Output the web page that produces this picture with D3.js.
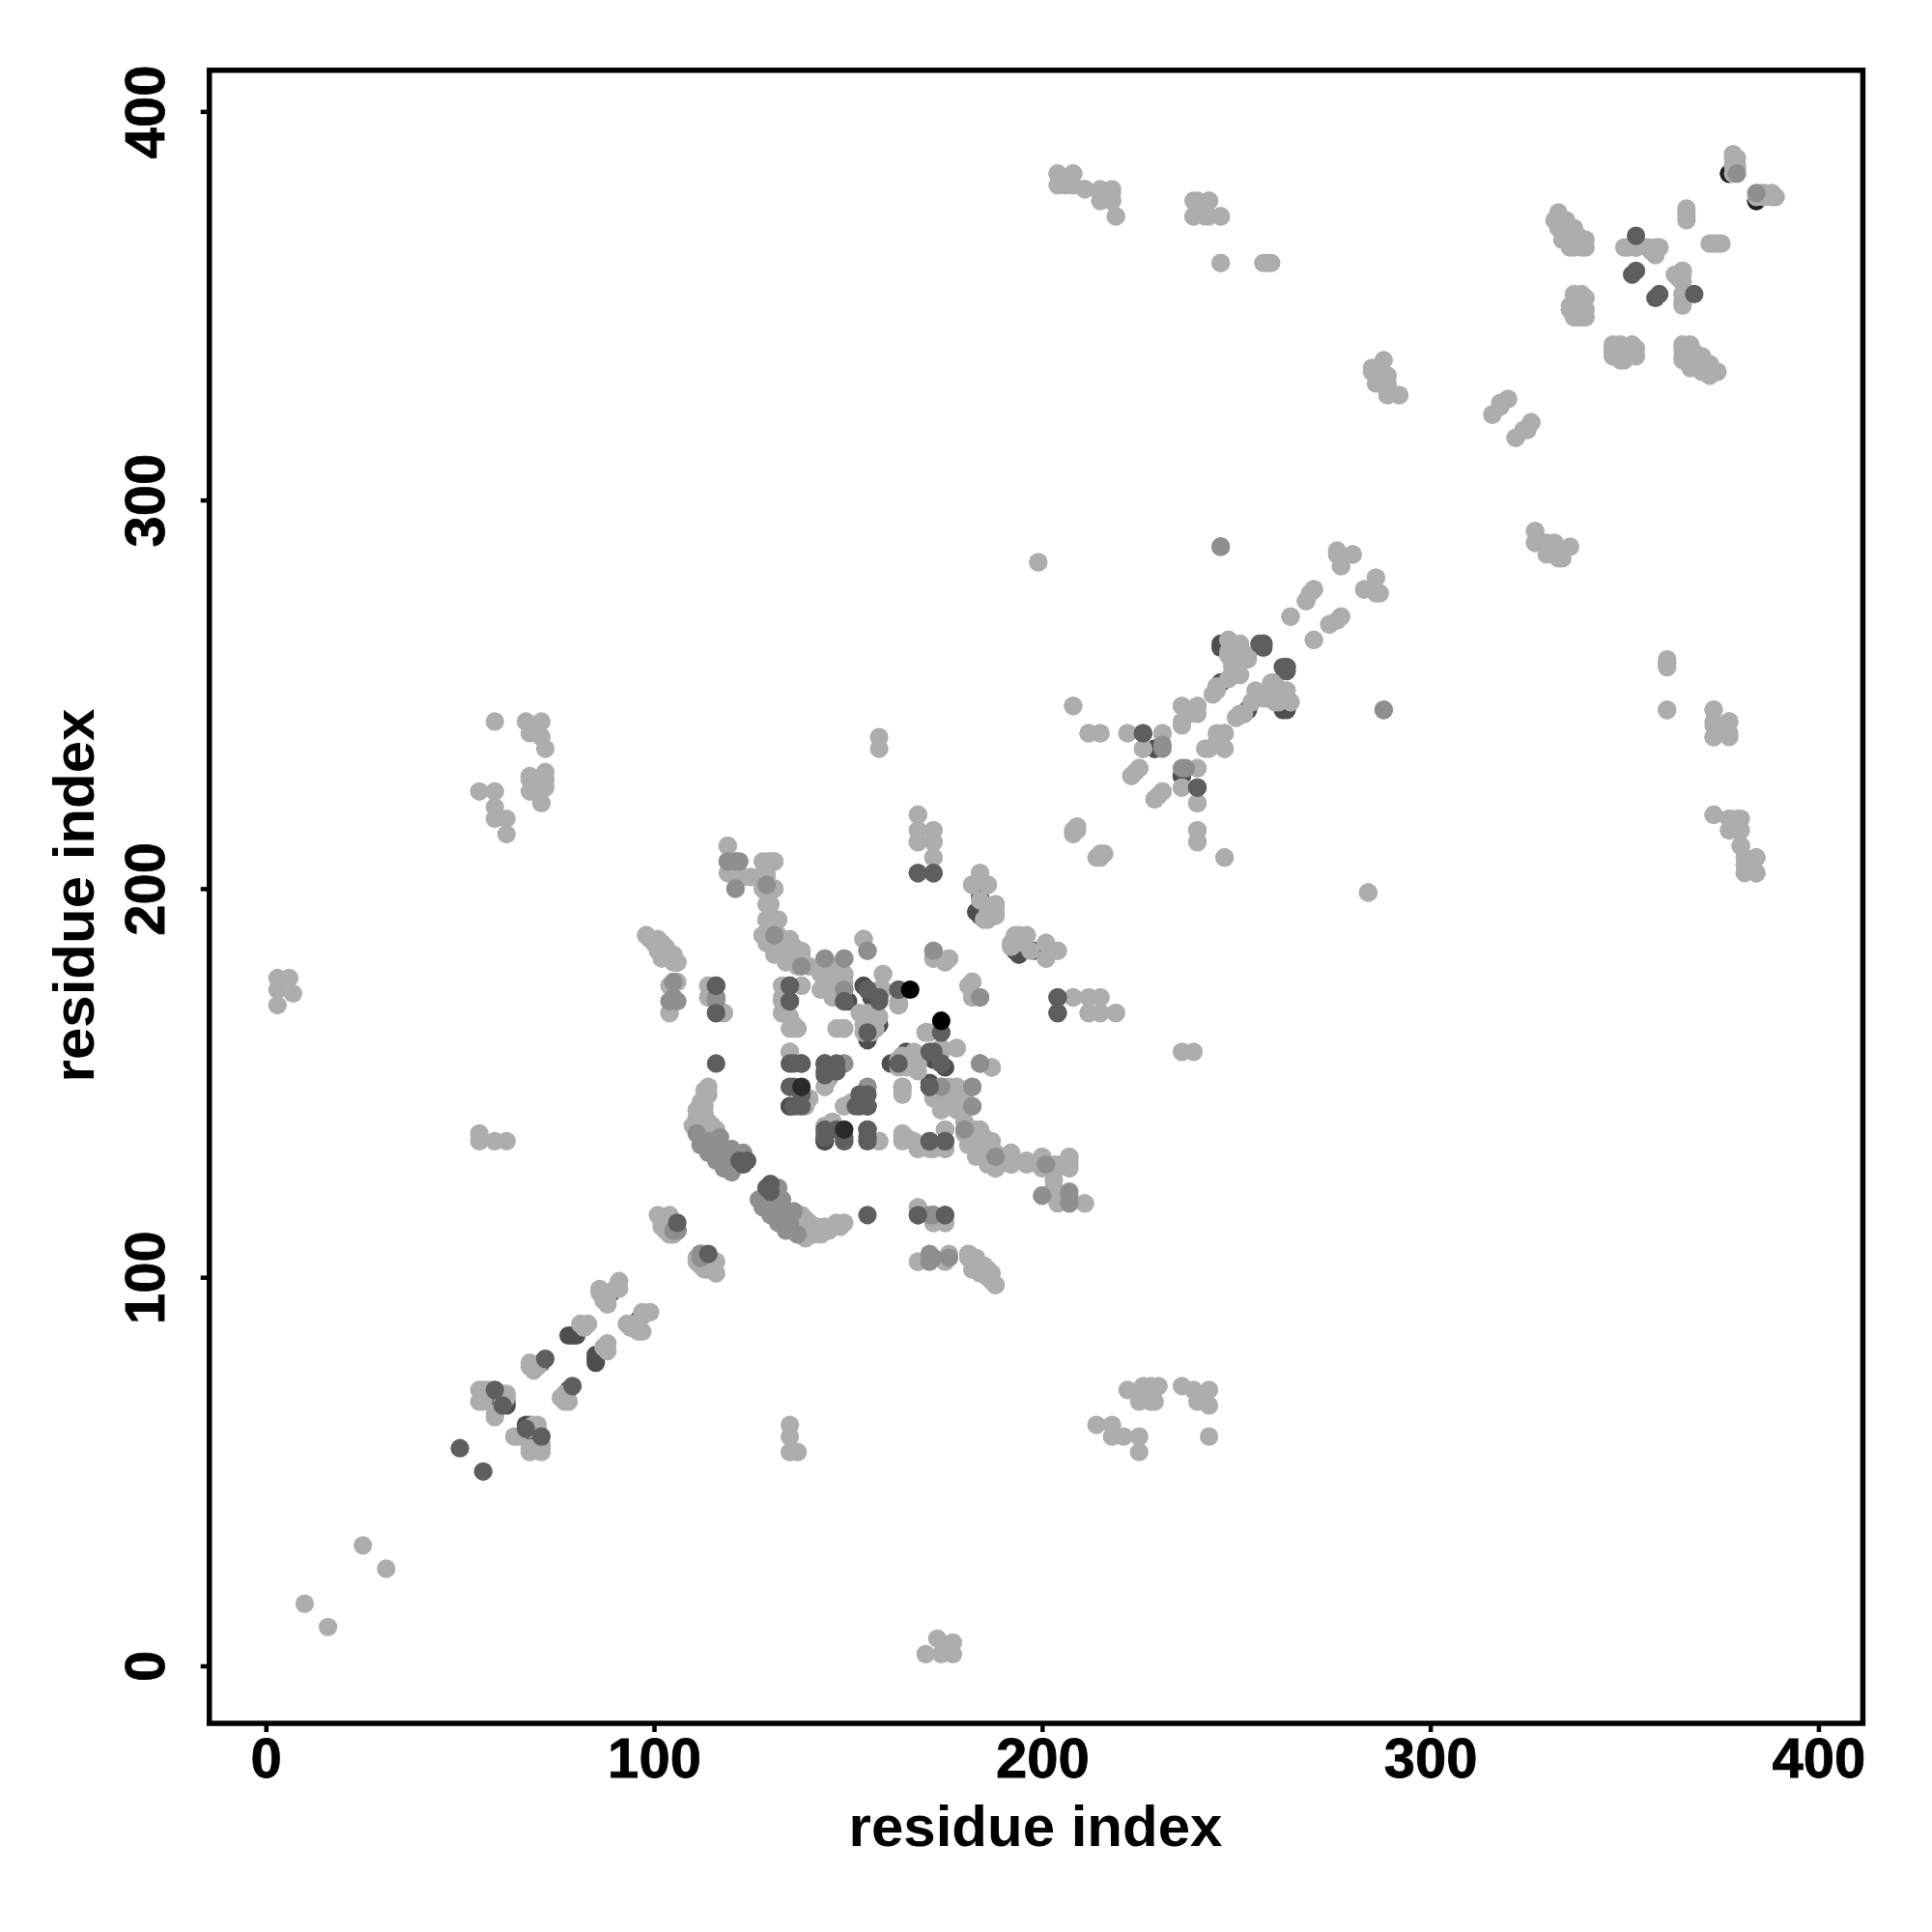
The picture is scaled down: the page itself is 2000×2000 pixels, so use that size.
<!DOCTYPE html>
<html><head><meta charset="utf-8">
<script src="https://cdn.jsdelivr.net/npm/d3@7"></script>
<style>html,body{margin:0;background:#fff}svg{display:block}text{font-family:"Liberation Sans",Arial,sans-serif;font-weight:bold;fill:#000}</style>
</head><body><svg id="c" width="2000" height="2000"></svg>
<script>
const xTicks=[0,100,200,300,400], yTicks=[0,100,200,300,400];
const xLabel="residue index", yLabel="residue index";
const blackBelow=[[377,384],[384,377]];
const darkBelow=[[58,68],[60,67],[59,70],[60,68],[62,68],[62,67],[71,78],[78,85],[79,85],[80,85],[89,96],[106,112],
[113,134],[114,133],[115,132],[116,131],[117,130],[118,129],[119,128],[114,137],[115,136],[117,134],[119,132],[121,130],[122,129],
[156,172],[154,175],[150,171],[146,176],[163,170],[158,165],[157,164],[155,162],[155,161],[183,194],[184,198],[193,184],[194,186],[229,236],[236,229],[246,253],[245,252],[246,263],[262,246],[253,246],[135,144],[144,135],[172,147],[172,116],[168,116]];
const lightContacts=[[10,16],[25,31],[55,71],[55,68],[56,68],[59,65],[62,70],[61,70],[57,71],[59,64],[56,71],[61,68],[62,69],
[68,78],[70,77],[68,77],[69,76],[81,88],[83,88],[82,87],[86,96],[86,97],[87,94],[88,93],[88,95],[91,99],[91,97],[90,97],
[102,115],[103,115],[104,115],[102,113],[103,112],[104,111],[105,111],[104,116],[101,116],[102,114],[103,113],[115,102],
[114,149],[113,148],[114,147],[113,146],[112,145],[113,144],[111,143],[112,142],[113,142],[111,141],[112,140],[110,139],[111,139],[114,140],[111,138],[112,137],[113,136],[115,139],[116,138],
[119,211],[119,204],[122,203],[125,203],[129,207],[131,207],[130,207],[127,203],[129,203],[131,200],[129,199],[130,196],[129,192],[132,192],[128,188],[129,186],[131,186],[133,185],[136,185],[138,183],[131,183],[134,181],[137,180],[140,180],[144,182],[144,179],[143,174],[149,178],[147,180],[149,176],[146,172],[154,187],
[159,178],[158,174],[163,171],[153,168],[158,167],[157,164],[154,163],[155,166],[148,164],[149,164],
[114,175],[114,172],[118,168],[104,168],[106,176],[104,175],[98,188],[99,187],[100,186],[102,186],[103,183],[105,181],[106,181],[101,184],[104,182],
[133,175],[138,175],[133,171],[133,168],[135,167],[135,164],[137,164],[135,158],[135,155],[135,149],[139,144],[140,146],[144,149],[145,151],[155,149],[149,144],[146,140],[158,135],
[164,136],[165,136],[168,133],[172,133],[175,138],[175,133],[164,149],[164,147],[163,156],[167,156],[168,155],[165,154],[174,159],[178,159],[170,163],[187,154],
[174,143],[178,149],[178,147],[178,143],[176,146],[174,149],[172,147],
[184,138],[187,135],[182,134],[185,131],[188,128],[188,132],[192,132],[192,129],[196,129],[200,131],[200,128],[204,129],[207,131],[207,128],[203,123],[200,121],[204,120],[211,119],[181,138],[183,136],[186,132],
[168,118],[175,114],[172,114],[168,104],[181,106],[183,105],[185,103],[187,101],[188,98],[182,102],
[168,219],[168,215],[172,215],[168,212],[172,212],[172,208],[209,215],[208,214],[216,209],[215,208],
[184,204],[182,201],[186,201],[188,196],[186,192],[188,194],[184,197],[193,188],[196,188],[192,185],[194,186],[201,186],[201,182],[204,184],[172,184],[172,182],[176,182],[182,176],[181,175],[182,172],
[208,172],[212,172],[215,172],[212,168],[215,168],[219,168],
[59,243],[55,225],[59,225],[59,221],[59,218],[62,218],[62,214],[67,243],[71,243],[68,240],[71,239],[72,236],[68,229],[72,230],[68,225],[72,226],[71,222],[68,228],[70,227],[69,225],[72,228],
[3,177],[6,177],[3,174],[7,173],[3,170],[55,137],[55,135],[59,135],[62,135],
[204,384],[204,381],[208,384],[208,381],[211,380],[215,379],[215,377],[218,379],[218,377],[219,373],[239,377],[243,377],[239,373],[243,373],[246,373],[246,361],[258,361],[259,361],
[199,284],[208,247],[212,240],[215,240],[158,239],[158,236],
[276,286],[280,286],[277,283],[286,280],[283,277],[287,276],[270,277],[268,274],[264,270],[277,270],[274,268],[270,264],[276,269],
[248,264],[251,263],[250,261],[253,260],[248,260],[249,257],[248,254],[245,251],[244,250],[259,253],[257,250],[262,251],[264,248],[261,248],[254,248],[252,245],[250,244],[255,251],[258,249],
[236,247],[240,247],[238,245],[236,242],[247,240],[245,240],[243,236],[247,236],[222,240],[231,240],[226,236],[224,230],[223,229],[225,231],[231,225],[229,223],[240,231],[236,226],[240,222],[240,215],[240,212],[247,208],[284,199],
[379,388],[379,385],[379,386],[384,378],[388,378],[389,378],[386,378],[366,374],[366,372],[373,366],[375,366],[351,365],[353,365],[358,365],[359,365],[358,363],[365,359],[364,357],[365,356],[365,353],[365,350],
[333,373],[335,371],[336,370],[334,369],[338,368],[335,367],[337,365],[340,365],[340,367],[337,367],
[338,352],[340,352],[336,349],[340,349],[338,347],[340,347],[347,339],[353,339],[347,337],[353,337],[349,336],[350,336],
[365,339],[367,339],[365,336],[367,334],[370,337],[372,335],[374,333],[372,332],[370,333],
[320,326],[318,325],[316,322],[326,320],[324,318],[322,316],
[288,336],[285,333],[288,332],[286,330],[289,329],[289,327],[292,327],
[327,292],[327,289],[330,289],[332,289],[330,287],[334,285],[332,287],
[361,258],[361,257],[361,246],[373,246],[373,242],[373,239],[377,243],[377,240],[373,219],[377,218],[380,218],[377,215],[380,215],[380,211],[381,206],[384,208],[384,204]];
const midContacts=[[119,207],[122,207],[121,200],[129,201],[155,184],[149,182],[149,174],[116,171],[104,171],[106,171],[112,134],[114,132],[116,130],[118,128],[120,127],[114,135],[117,136],[120,133],[123,132],[111,137],[116,133],[118,132],[120,130],[144,137],[149,155],[184,155],[182,149],[182,144],[207,121],[207,119],[172,105],[176,105],[184,172],[246,288],[288,246],[236,231],[231,237],[172,116],[180,138],[188,131],[112,106],[105,112],[379,384]];
const darkAbove=[[50,56],[59,71],[61,67],[72,79],[106,114],[116,155],[124,130],[123,129],[122,130],[135,175],[116,175],[116,168],[135,171],[149,171],[155,174],[136,155],[138,155],[144,155],[147,153],[144,152],[153,147],[155,147],[153,144],[155,144],[136,144],[136,149],[149,135],[147,138],[144,138],[155,138],[155,135],[171,135],[175,135],[171,158],[174,155],[174,163],[163,174],[158,172],[155,163],[171,149],[168,204],[172,204],[175,116],[204,172],[204,168],[226,240],[240,226],[256,263],[257,263],[262,257],[263,257],[353,368],[352,358],[353,359]];
const deepContacts=[[138,149]];
const blackContacts=[[166,174]];

const W=2000,H=2000;
const svg=d3.select("#c");
const x=d3.scaleLinear().domain([-14.56,411.44]).range([216.7,1928.4]);
const y=d3.scaleLinear().domain([-14.8,410.6]).range([1784,72.7]);
const tone=d3.scaleOrdinal().domain(["blackBelow","below","light","mid","above","deep","black"])
  .range(["#1e1e1e","#4e4e4e","#adadad","#8f8f8f","#5e5e5e","#2a2a2a","#000000"]);
const layers=[["blackBelow",blackBelow],["below",darkBelow],["light",lightContacts],["mid",midContacts],["above",darkAbove],["deep",deepContacts],["black",blackContacts]];
const pts=svg.append("g");
layers.forEach(([k,list])=>{
  const both=list.flatMap(([i,j])=>[[i,j],[j,i]]);
  pts.append("g").selectAll("circle").data(both).join("circle")
    .attr("cx",d=>x(d[0])).attr("cy",d=>y(d[1])).attr("r",9.6).attr("fill",tone(k));
});
// frame
svg.append("rect").attr("x",x.range()[0]).attr("y",y.range()[1])
  .attr("width",x.range()[1]-x.range()[0]).attr("height",y.range()[0]-y.range()[1])
  .attr("fill","none").attr("stroke","#000").attr("stroke-width",5.5);
// axes
const ax=svg.append("g").attr("transform",`translate(0,${y.range()[0]})`)
  .call(d3.axisBottom(x).tickValues(xTicks).tickSize(9).tickSizeOuter(0).tickPadding(0));
ax.select(".domain").remove();
ax.selectAll("line").attr("stroke","#000").attr("stroke-width",4.5);
ax.selectAll("text").attr("y",0).attr("dy",0).attr("transform","translate(0,56)").style("font-size","58px").style("stroke","#000").style("stroke-width","0.8px").attr("text-anchor","middle");
const ay=svg.append("g").attr("transform",`translate(${x.range()[0]},0)`)
  .call(d3.axisLeft(y).tickValues(yTicks).tickSize(9).tickSizeOuter(0));
ay.select(".domain").remove();
ay.selectAll("line").attr("stroke","#000").attr("stroke-width",4.5);
ay.selectAll("text").attr("x",0).attr("y",0).attr("dy",0).attr("transform","translate(-47,0) rotate(-90)").style("font-size","58px").style("stroke","#000").style("stroke-width","0.8px").attr("text-anchor","middle");
svg.append("text").attr("x",1072).attr("y",1911).attr("text-anchor","middle").style("font-size","60px").text(xLabel);
svg.append("text").attr("transform","translate(97,927) rotate(-90)").attr("text-anchor","middle").style("font-size","60px").text(yLabel);
</script></body></html>
